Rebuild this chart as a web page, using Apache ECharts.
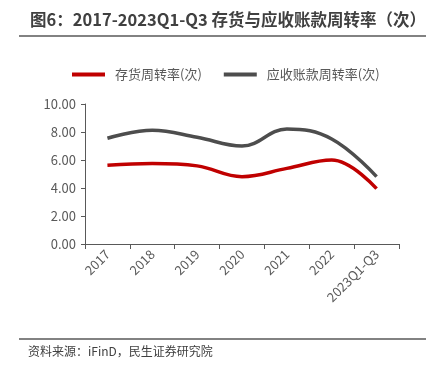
<!DOCTYPE html>
<html><head><meta charset="utf-8">
<script src="https://cdn.jsdelivr.net/npm/echarts@6/dist/echarts.min.js"></script>
<style>html,body{margin:0;padding:0;background:#fff}#c{width:436px;height:372px}</style>
</head><body><div id="c"></div>
<script>
var categories = ['2017','2018','2019','2020','2021','2022','2023Q1-Q3'];
var inventoryTurnover = [5.63, 5.75, 5.58, 4.81, 5.40, 6.00, 3.95];
var receivableTurnover = [7.55, 8.12, 7.62, 7.00, 8.22, 7.50, 4.81];
var yTicks = [0, 2, 4, 6, 8, 10];
var seriesNames = ['存货周转率(次)', '应收账款周转率(次)'];

var chart = echarts.init(document.getElementById('c'), null, {renderer:'canvas'});
var font = '"Noto Sans CJK SC", "Microsoft YaHei", sans-serif';
chart.setOption({
  animation: false,
  title: {
    text: '图6：2017-2023Q1-Q3 存货与应收账款周转率（次）',
    left: 25, top: 6,
    textStyle: {fontSize: 16.5, fontWeight: 'bold', color: '#404040', fontFamily: font}
  },
  graphic: [
    {type:'line', shape:{x1:19, y1:36, x2:426, y2:36}, style:{stroke:'#595959', lineWidth:1.5}},
    {type:'line', shape:{x1:19, y1:339, x2:426, y2:339}, style:{stroke:'#595959', lineWidth:1.5}},
    {type:'text', left: 28, top: 345, style:{text:'资料来源：iFinD，民生证券研究院', fill:'#404040', font:'12px ' + font}}
  ],
  legend: {
    top: 63, left: 67,
    itemWidth: 33, itemHeight: 4, itemGap: 22,
    icon: 'rect',
    textStyle: {fontSize: 13, color: '#595959', fontFamily: font, padding: [0,0,0,5]},
    data: seriesNames
  },
  grid: {left: 85, right: 37, top: 104, bottom: 128, containLabel: false},
  xAxis: {
    type: 'category', data: categories, boundaryGap: true,
    axisLine: {lineStyle: {color: '#595959', width: 1}},
    axisTick: {show: true, length: 5, alignWithLabel: false, lineStyle: {color: '#595959'}},
    axisLabel: {rotate: 45, fontSize: 13, color: '#595959', fontFamily: font, margin: 8, interval: 0}
  },
  yAxis: {
    type: 'value', min: yTicks[0], max: yTicks[yTicks.length-1], interval: 2,
    axisLine: {show: true, lineStyle: {color: '#595959', width: 1}},
    axisTick: {show: true, length: 4, lineStyle: {color: '#595959'}},
    splitLine: {show: false},
    axisLabel: {fontSize: 13, color: '#595959', fontFamily: font, margin: 9,
      formatter: function(v){ return v.toFixed(2); }}
  },
  series: [
    {name: seriesNames[0], type: 'line', data: inventoryTurnover, smooth: 0.4, symbol: 'none',
     lineStyle: {color: '#C00000', width: 3.5}, itemStyle: {color: '#C00000'}},
    {name: seriesNames[1], type: 'line', data: receivableTurnover, smooth: 0.4, symbol: 'none',
     lineStyle: {color: '#4D4D4D', width: 3.5}, itemStyle: {color: '#4D4D4D'}}
  ]
});
</script></body></html>
